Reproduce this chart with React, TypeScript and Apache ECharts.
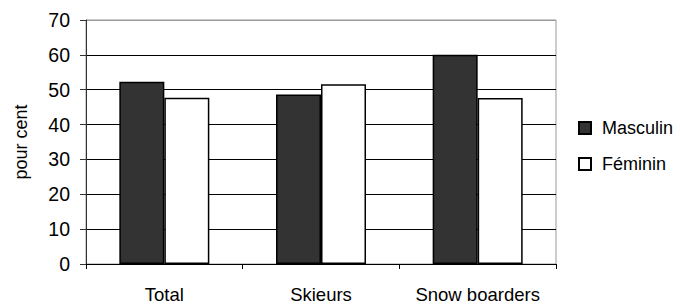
import React, { useEffect, useRef } from "react";
import * as echarts from "echarts";

const categories = ["Total", "Skieurs", "Snow boarders"];
const masculin = [52.3, 48.6, 60.0];
const feminin = [47.7, 51.6, 47.6];
const seriesNames = ["Masculin", "Féminin"];
const yTicks = [0, 10, 20, 30, 40, 50, 60, 70];

export default function App() {
  const ref = useRef<HTMLDivElement>(null);
  useEffect(() => {
    if (!ref.current) return;
    const chart = echarts.init(ref.current, undefined, { renderer: "svg" });
    const font = "'Liberation Sans', Arial, sans-serif";
    const splitColors = yTicks.map((v, i) => (i === yTicks.length - 1 ? "#999999" : "#000000"));
    chart.setOption({
      animation: false,
      backgroundColor: "#ffffff",
      textStyle: { fontFamily: font },
      grid: {
        left: 86,
        right: 124,
        top: 20,
        bottom: 42,
        show: true,
        borderColor: "#999999",
        borderWidth: 1,
        containLabel: false,
      },
      legend: {
        orient: "vertical",
        left: 573,
        top: 114,
        itemWidth: 12,
        itemHeight: 12,
        itemGap: 18,
        icon: "rect",
        textStyle: { fontFamily: font, fontSize: 18, color: "#000", padding: [0, 0, 0, 6] },
        data: seriesNames,
      },
      xAxis: {
        type: "category",
        data: categories,
        axisLine: { show: true, lineStyle: { color: "#000", width: 1 } },
        axisTick: { show: true, alignWithLabel: false, interval: 0, length: 5, lineStyle: { color: "#000" } },
        axisLabel: { fontFamily: font, fontSize: 18.5, color: "#000", margin: 21, interval: 0, hideOverlap: false },
        splitLine: { show: false },
      },
      yAxis: {
        type: "value",
        min: 0,
        max: 70,
        interval: 10,
        name: "pour cent",
        nameLocation: "middle",
        nameRotate: 90,
        nameGap: 56,
        nameTextStyle: { fontFamily: font, fontSize: 18, color: "#000" },
        axisLine: { show: true, lineStyle: { color: "#333", width: 1 } },
        axisTick: { show: true, length: 6, lineStyle: { color: "#333" } },
        axisLabel: { fontFamily: font, fontSize: 19.5, color: "#000", margin: 16 },
        splitLine: { show: true, lineStyle: { color: splitColors, width: 1 } },
      },
      series: [
        {
          name: seriesNames[0],
          type: "bar",
          data: masculin,
          barWidth: 45,
          barGap: "0%",
          itemStyle: { color: "#333333", borderColor: "#000", borderWidth: 1.5 },
        },
        {
          name: seriesNames[1],
          type: "bar",
          data: feminin,
          barWidth: 45,
          barGap: "0%",
          itemStyle: { color: "#ffffff", borderColor: "#000", borderWidth: 1.5 },
        },
      ],
    });
    return () => chart.dispose();
  }, []);
  return (
    <div
      ref={ref}
      style={{ position: "fixed", left: 0, top: 0, width: 680, height: 306, background: "#fff" }}
    />
  );
}
